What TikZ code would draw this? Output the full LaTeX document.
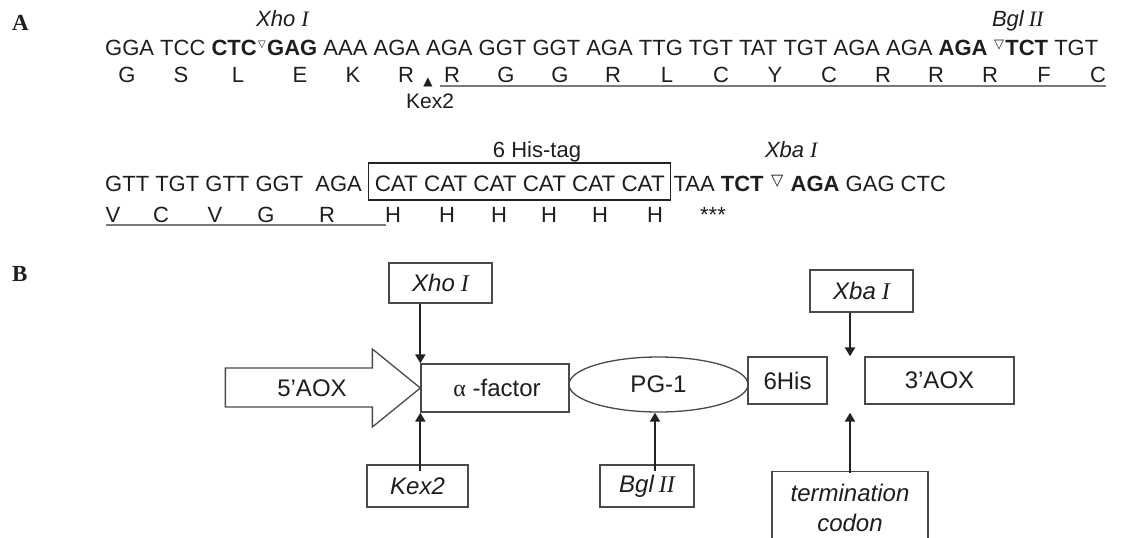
\documentclass[tikz,border=0pt]{standalone}
\usepackage{fontspec}
\setmainfont{Liberation Sans}
\newfontfamily\tnr{Liberation Serif}
\newfontfamily\dejavu{DejaVu Sans}
\usetikzlibrary{arrows.meta,shapes.geometric,calc}
\definecolor{txt}{HTML}{1E1E1E}
\definecolor{boxc}{HTML}{4A4A4A}
\definecolor{arrc}{HTML}{222222}
\definecolor{ulc}{HTML}{7A7A7A}
\begin{document}
\begin{tikzpicture}[x=1pt,y=-1pt,
  every node/.style={inner sep=0pt, text=txt},
  dna/.style={anchor=base west, font=\fontsize{22}{26}\selectfont},
  aa/.style={anchor=base, font=\fontsize{22}{26}\selectfont},
  lbl/.style={anchor=base west, font=\fontsize{22}{26}\selectfont\itshape},
  panel/.style={anchor=north west, font=\fontsize{23}{26}\selectfont\tnr\bfseries},
  blk/.style={draw=boxc, line width=1.3pt, font=\fontsize{24}{30}\selectfont},
  blkline/.style={draw=boxc, line width=1.3pt},
  arr/.style={draw=arrc, line width=2.2pt, -{Triangle[length=9pt,width=10pt]}},
  uline/.style={draw=ulc, line width=1.8pt},
]
\useasboundingbox (0,0) rectangle (1136,538);
\fill[white] (0,0) rectangle (1136,538);

% ---------- panel labels
\node[panel] (pA) at (12,15) {A};
\node[panel] (pB) at (12,266) {B};

% ---------- row 1 (DNA)
\node[dna] (r1a) at (105,55) {GGA TCC \textbf{CTC}};
\node[anchor=north west, font=\dejavu\fontsize{10}{10}\selectfont] (t1) at ($(r1a.north east)+(1,1)$) {▽};
\node[dna] (r1b) at ($(t1.east |- r1a.base)+(1,0)$) {\textbf{GAG} AAA AGA AGA GGT GGT AGA TTG TGT TAT TGT AGA AGA \textbf{AGA}};
\node[anchor=north west, font=\dejavu\fontsize{13}{13}\selectfont] (t2) at ($(r1b.north east)+(6,1)$) {▽};
\node[dna] (r1c) at ($(t2.east |- r1a.base)+(1,0)$) {\textbf{TCT} TGT};

\coordinate (ylab1) at (0,27);
\node[lbl] (xhoA) at ($(t1.west |- ylab1)+(-2,0)$) {Xho\hspace{6pt}{\tnr I}};
\node[lbl] (bglA) at ($(t2.west |- ylab1)+(-2,0)$) {Bgl\hspace{5pt}{\tnr II}};

% ---------- row 2 (amino acids)
\foreach \x/\l [count=\i] in {127/G,181/S,238/L,300/E,353/K,406/R,452/R,506/G,560/G,613/R,667/L,721/C,775/Y,829/C,883/R,936/R,990/R,1044/F,1098/C}
  \node[aa] (aa\i) at (\x,82) {\l};
\node[anchor=south, font=\dejavu\fontsize{12}{12}\selectfont] (kexmark) at (428,87) {▲};
\coordinate (ykex) at (0,94);
\node[anchor=north, font=\fontsize{21}{24}\selectfont] (kexA) at ($(kexmark.south |- ykex)+(2,0)$) {Kex2};
\coordinate (ul1s) at (440,86);
\coordinate (ul1e) at (1106,86);
\draw[uline] (ul1s) -- (ul1e);

% ---------- row 3 (DNA)
\node[dna] (r3a) at (105,191) {GTT TGT GTT GGT\ \ AGA};
\node[dna, font=\fontsize{22.4}{26}\selectfont, draw=arrc, line width=1.4pt, inner xsep=6pt, text height=28pt, text depth=9pt] (hisbox) at ($(r3a.base east)+(6,0)$) {CAT CAT CAT CAT CAT CAT};
\node[dna] (r3b) at ($(hisbox.base east)+(2,0)$) {TAA \textbf{TCT}};
\node[anchor=north west, font=\dejavu\fontsize{16}{16}\selectfont] (t3) at ($(r3b.north east)+(7,0)$) {▽};
\node[dna] (r3c) at ($(t3.east |- r3b.base)+(7,0)$) {\textbf{AGA} GAG CTC};

\node[aa] (histag) at (537,157) {6 His-tag};
\coordinate (ylab3) at (0,157);
\node[lbl] (xbaA) at ($(t3.west |- ylab3)+(-6,0)$) {Xba\hspace{6pt}{\tnr I}};

% ---------- row 4 (amino acids)
\foreach \x/\l [count=\i] in {113/V,161/C,215/V,266/G,327/R,393/H,447/H,499/H,549/H,600/H,655/H}
  \node[aa] (bb\i) at (\x,222) {\l};
\node[aa] (stop) at (713,222) {***};
\coordinate (ul2s) at (106,225);
\coordinate (ul2e) at (386,225);
\draw[uline] (ul2s) -- (ul2e);

% ---------- panel B
\node[blk, minimum width=103pt, minimum height=40pt] (xhoB) at (440.5,283) {\itshape Xho\hspace{6pt}{\tnr I}};
\node[blk, minimum width=148pt, minimum height=48pt] (af) at (495,388) {\hspace{4pt}{\tnr α} -factor};
\node[blk, ellipse, minimum width=179pt, minimum height=55pt] (pg) at (658.5,384.5) {PG-1};
\node[blk, minimum width=79pt, minimum height=47pt] (his6) at (787.5,380.5) {6His};
\node[blk, minimum width=149pt, minimum height=47pt] (aox3) at (939.5,380.5) {3’AOX};
\node[blk, minimum width=103pt, minimum height=42pt] (xbaB) at (861.5,291) {\itshape Xba\hspace{6pt}{\tnr I}};
\node[blk, minimum width=101pt, minimum height=42pt] (kexB) at (417.5,486) {\itshape Kex2};
\node[blk, minimum width=94pt, minimum height=42pt] (bglB) at (647,486) {\itshape Bgl\hspace{5pt}{\tnr II}};
\node[blk, minimum width=156pt, minimum height=72pt, anchor=north, align=center] (term) at (850,471) {\itshape termination\\\itshape codon};

% 5'AOX block arrow
\coordinate (tip) at (af.west);
\draw[blkline] ($(tip)+(-195,-20)$) -- ($(tip)+(-48,-20)$) -- ($(tip)+(-48,-39)$) -- (tip)
   -- ($(tip)+(-48,39)$) -- ($(tip)+(-48,19)$) -- ($(tip)+(-195,19)$) -- cycle;
\node[font=\fontsize{24}{30}\selectfont] (aox5) at (312,388) {5’AOX};

% arrows
\draw[arr] (xhoB.south -| af.west) -- (af.north west);
\draw[arr] ($(kexB.north -| af.west)+(0,7)$) -- (af.south west);
\draw[arr] ($(bglB.north -| pg.south)+(-3.5,7)$) -- ($(pg.south)+(-3.5,0)$);
\draw[arr] (xbaB.south -| term.north) -- (his6.north -| term.north);
\draw[arr] ($(term.north)+(0,2)$) -- (af.south -| term.north);
\end{tikzpicture}
\end{document}
